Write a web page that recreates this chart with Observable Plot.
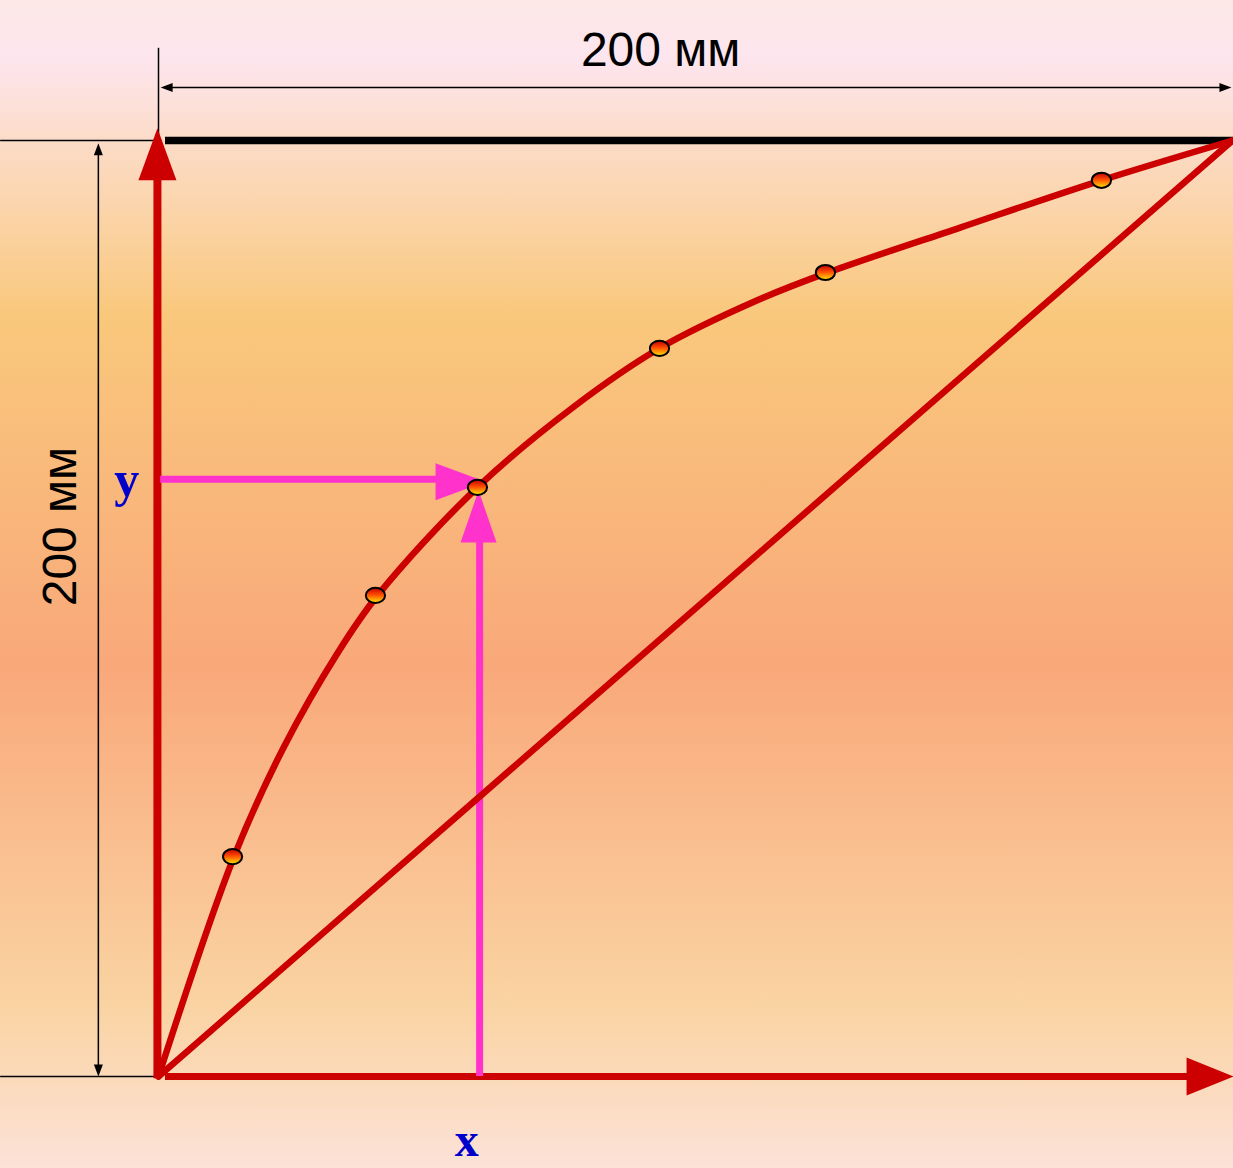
<!DOCTYPE html>
<html>
<head>
<meta charset="utf-8">
<script src="https://cdn.jsdelivr.net/npm/d3@7"></script>
<script src="https://cdn.jsdelivr.net/npm/@observablehq/plot@0.6"></script>
<style>
  html, body { margin: 0; padding: 0; }
  body { width: 1233px; height: 1168px; overflow: hidden; }
</style>
</head>
<body>
<div id="chart"></div>
<script>
// ---- data (mm, 0..200 on both axes) ----
const curveX = [0, 14.0, 23.3, 33.3, 40.8, 59.4, 77.1, 93.3, 111.4, 124.2, 149.3, 175.6, 200];
const curveY = [0, 46.8, 70.3, 90.4, 102.8, 125.9, 142.9, 155.6, 165.8, 171.6, 181.4, 191.5, 200];
const pointX = [13.8, 40.4, 59.4, 93.3, 124.2, 175.6];
const pointY = [47.0, 102.8, 125.9, 155.6, 171.8, 191.5];
const diagX = [0, 200];
const diagY = [0, 200];
const readX = 59.8;      // x of the vertical magenta arrow
const readY = 127.6;     // y of the horizontal magenta arrow
const readTipX = 60.9;   // tip of horizontal arrow
const readTipY = 125.2;  // tip of vertical arrow
const axisTipX = 200.2;
const axisTipY = 202.6;
const sideLength = 200;
const dimTopY = 211.3;
const dimLeftX = -11.2;
const extLeft = -29.4;
const extTop = 219.7;
const sizeLabels = ["200 мм", "200 мм"];
const varLabels = ["x", "y"];

const curve = curveX.map((x, i) => ({x, y: curveY[i]}));
const points = pointX.map((x, i) => ({x, y: pointY[i]}));
const diag = diagX.map((x, i) => ({x, y: diagY[i]}));

const RED = "#cc0000";
const MAGENTA = "#ff33cc";
const BLUE = "#0000cc";

// arrowhead symbol: tip at (0,0)
function head(dir, len, half) {
  return {
    draw(ctx) {
      const pts = {
        up:    [[0,0],[half,len],[-half,len]],
        down:  [[0,0],[half,-len],[-half,-len]],
        right: [[0,0],[-len,half],[-len,-half]],
        left:  [[0,0],[len,half],[len,-half]]
      }[dir];
      ctx.moveTo(pts[0][0], pts[0][1]);
      ctx.lineTo(pts[1][0], pts[1][1]);
      ctx.lineTo(pts[2][0], pts[2][1]);
      ctx.closePath();
    }
  };
}
const ellipse = {
  draw(ctx) {
    const rx = 9.6, ry = 7.6, k = 0.5523;
    ctx.moveTo(rx, 0);
    ctx.bezierCurveTo(rx, ry * k, rx * k, ry, 0, ry);
    ctx.bezierCurveTo(-rx * k, ry, -rx, ry * k, -rx, 0);
    ctx.bezierCurveTo(-rx, -ry * k, -rx * k, -ry, 0, -ry);
    ctx.bezierCurveTo(rx * k, -ry, rx, -ry * k, rx, 0);
    ctx.closePath();
  }
};

const sans = "'Liberation Sans', Arial, sans-serif";
const serif = "'Liberation Serif', 'Times New Roman', serif";

const svg = Plot.plot({
  width: 1233,
  height: 1168,
  marginLeft: 158,
  marginRight: 1,
  marginTop: 140,
  marginBottom: 92,
  x: {domain: [0, sideLength], axis: null},
  y: {domain: [0, sideLength], axis: null},
  style: {
    background: "linear-gradient(to bottom, #fce8e6 0%, #fde5ee 5%, #fcdcc8 12%, #f9c87c 27%, #f9a87a 57%, #fad3a2 86%, #fce2d8 100%)",
    overflow: "visible"
  },
  marks: [
    // thin extension / dimension lines
    Plot.ruleY([sideLength], {x1: extLeft, x2: 0, stroke: "black", strokeWidth: 1.5}),
    Plot.ruleY([0], {x1: extLeft, x2: 0, stroke: "black", strokeWidth: 1.5}),
    Plot.ruleX([0], {y1: sideLength, y2: extTop, stroke: "black", strokeWidth: 1.5}),
    Plot.ruleY([dimTopY], {x1: 1.5, x2: 198.8, stroke: "black", strokeWidth: 1.5}),
    Plot.dot([0.4], {x: d => d, y: dimTopY, symbol: head("left", 12, 4.5), fill: "black", stroke: null}),
    Plot.dot([199.8], {x: d => d, y: dimTopY, symbol: head("right", 12, 4.5), fill: "black", stroke: null}),
    Plot.ruleX([dimLeftX], {y1: 1, y2: 198.5, stroke: "black", strokeWidth: 1.5}),
    Plot.dot([199.4], {x: dimLeftX, y: d => d, symbol: head("up", 12, 4.5), fill: "black", stroke: null}),
    Plot.dot([0], {x: dimLeftX, y: d => d, symbol: head("down", 12, 4.5), fill: "black", stroke: null}),
    // thick top border
    Plot.ruleY([sideLength], {x1: 1.3, x2: axisTipX, stroke: "black", strokeWidth: 7.5}),
    // red axes
    Plot.ruleX([-0.2], {y1: -0.5, y2: 192.5, stroke: RED, strokeWidth: 8}),
    Plot.dot([axisTipY], {x: -0.2, y: d => d, symbol: head("up", 52, 19), fill: RED, stroke: null}),
    Plot.ruleY([0], {x1: 1.3, x2: 192, stroke: RED, strokeWidth: 7}),
    Plot.dot([axisTipX], {x: d => d, y: 0, symbol: head("right", 47, 19), fill: RED, stroke: null}),
    // magenta reading arrows
    Plot.ruleY([readY], {x1: 0.4, x2: 52, stroke: MAGENTA, strokeWidth: 7}),
    Plot.dot([readTipX], {x: d => d, y: readY - 0.5, symbol: head("right", 50, 18.5), fill: MAGENTA, stroke: null}),
    Plot.ruleX([readX], {y1: 0, y2: 115, stroke: MAGENTA, strokeWidth: 7}),
    Plot.dot([readTipY], {x: readX - 0.2, y: d => d, symbol: head("up", 52, 18), fill: MAGENTA, stroke: null}),
    // diagonal and equilibrium curve
    Plot.line(diag, {x: "x", y: "y", stroke: RED, strokeWidth: 6.5}),
    Plot.line(curve, {x: "x", y: "y", stroke: RED, strokeWidth: 6.5, curve: "catmull-rom"}),
    Plot.dot(points, {x: "x", y: "y", symbol: ellipse, fill: "url(#dotGrad)", stroke: "black", strokeWidth: 2}),
    // labels
    Plot.text([sizeLabels[0]], {x: 93.5, y: 219.1, text: d => d, fontSize: 48, fontFamily: sans, fill: "black", textAnchor: "middle", lineAnchor: "middle"}),
    Plot.text([sizeLabels[1]], {x: -18.3, y: 117.5, text: d => d, fontSize: 48, fontFamily: sans, fill: "black", rotate: -90, textAnchor: "middle", lineAnchor: "middle"}),
    Plot.text([varLabels[0]], {x: 57.4, y: -13.7, text: d => d, fontSize: 48, fontFamily: serif, fontWeight: "bold", fill: BLUE, textAnchor: "middle", lineAnchor: "middle"}),
    Plot.text([varLabels[1]], {x: -5.9, y: 127.4, text: d => d, fontSize: 50, fontFamily: serif, fontWeight: "bold", fill: BLUE, textAnchor: "middle", lineAnchor: "middle"})
  ]
});

d3.select(svg).insert("defs", ":first-child").html(
  '<linearGradient id="dotGrad" x1="0" y1="0" x2="0" y2="1">' +
  '<stop offset="0" stop-color="#c00000"/>' +
  '<stop offset="0.45" stop-color="#ff4a00"/>' +
  '<stop offset="1" stop-color="#ffe600"/>' +
  '</linearGradient>'
);

document.getElementById("chart").appendChild(svg);
</script>
</body>
</html>
